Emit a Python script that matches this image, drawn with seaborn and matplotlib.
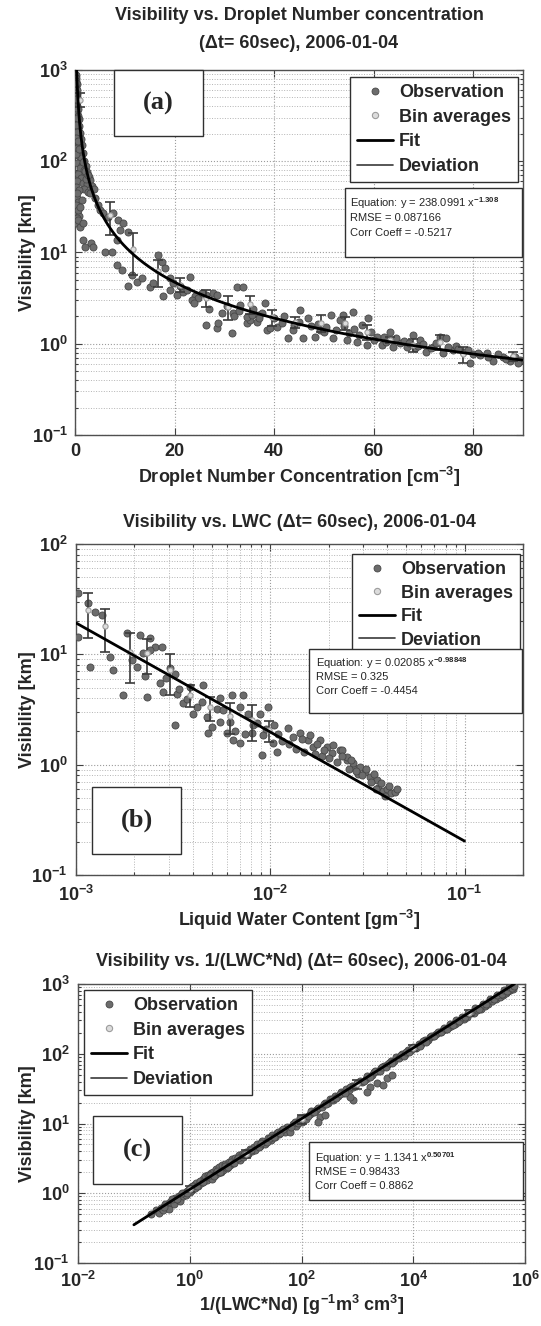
import numpy as np
import matplotlib
matplotlib.use("Agg")
import matplotlib.pyplot as plt
import seaborn as sns
from matplotlib.patches import Rectangle
from matplotlib.lines import Line2D
from matplotlib.ticker import FixedLocator, FuncFormatter, LogLocator, NullLocator, NullFormatter

# ---------------------------------------------------------------- data
# (a) visibility [km] vs droplet number concentration [cm^-3]
nd_obs = [
    0.2, 0.3, 0.25, 0.4, 0.3, 0.5, 0.35, 0.45, 0.6, 0.3,
    0.5, 0.7, 0.4, 0.6, 0.8, 0.5, 0.9, 0.7, 1.0, 0.6,
    1.2, 0.9, 1.4, 0.5, 1.1, 1.6, 0.8, 1.3, 1.9, 0.4,
    1.5, 2.2, 1.0, 1.8, 2.5, 0.7, 2.1, 2.8, 1.2, 3.1,
    0.5, 1.6, 2.4, 3.4, 0.3, 1.9, 0.9, 2.7, 3.8, 0.4,
    0.6, 0.3, 1.4, 0.5, 0.8, 0.3, 0.5, 1.0, 0.7,
    0.15, 0.2, 0.25, 0.15, 0.35, 0.2, 0.45, 0.3, 0.65, 0.25,
    0.75, 1.7, 2.0, 2.3, 2.6,
    0.34, 1.0, 0.67, 1.67, 3.0, 4.0, 4.7, 5.0, 5.7, 6.7,
    7.7, 8.7, 9.7, 9.0, 10.7, 8.4, 1.67, 2.0, 3.3, 3.7,
    6.0, 7.4, 8.4, 9.4, 10.7, 11.4, 12.4, 13.4, 15.1, 15.7,
    16.7, 17.4, 18.1, 17.7, 19.1, 19.7, 20.4, 21.7, 23.1, 24.1,
    24.8,
    26.4, 28.5, 31.5, 31.8, 32.5, 33.8, 34.5, 35.1, 36.8, 38.2,
    38.5, 39.2, 40.5, 42.8, 43.8, 45.2, 45.8, 46.8, 48.2, 49.2,
    50.5, 51.5, 51.9, 53.2, 53.9, 54.6, 55.9, 56.6, 57.6, 58.6,
    58.9, 60.6, 61.6, 63.3, 63.9, 65.3, 66.6, 67.9, 68.3, 69.3,
    70.6, 72.0, 73.3, 74.0, 74.6, 76.0, 78.0, 79.3, 81.3, 82.7,
    84.0, 86.0, 87.3, 88.4, 89.4,
    26.4, 27.8, 28.5, 28.8, 33.1, 34.5, 35.5, 36.5, 37.5,
    27, 29.5, 30.5, 32, 33, 35.8, 37, 40, 41.5, 42,
    44, 45, 47.5, 48.8, 50, 52.5, 54, 55, 56, 57,
    59.5, 60, 62, 62.5, 64.5, 66, 67, 69, 70, 71.5,
    72.5, 75, 76.5, 77, 79, 80, 81, 83, 85, 86.5,
    88, 89, 19, 21, 22.5, 23.5, 25.5, 24,
]
vis_nd_obs = [
    880, 820, 760, 700, 640, 600, 550, 500, 470, 430,
    400, 370, 340, 310, 290, 265, 245, 225, 205, 190,
    175, 160, 150, 140, 130, 122, 115, 108, 100, 95,
    92, 88, 84, 80, 76, 72, 70, 68, 65, 62,
    60, 58, 56, 54, 52, 50, 48, 46, 50, 40,
    36, 33, 38, 28, 25, 21, 24, 19, 29,
    720, 560, 480, 380, 300, 250, 210, 180, 165, 120,
    135, 98, 78, 64, 70,
    44.6, 31.8, 22.7, 20.9, 44.6, 39.3, 33.1, 29.2, 26.9, 24.7,
    26.9, 22.7, 20.9, 17.7, 16.9, 13.7, 13.7, 11.6, 12.6, 11.6,
    10.2, 10.2, 7.3, 6.4, 4.3, 5.7, 4.8, 5.2, 4.2, 4.6,
    9.4, 7.9, 6.7, 3.3, 5.2, 4.6, 3.4, 3.7, 5.4, 3.3,
    3.15,
    1.6, 1.48, 1.3, 2.16, 4.2, 4.15, 1.67, 1.82, 2.06, 2.77,
    1.42, 1.48, 1.54, 1.15, 1.42, 2.34, 1.15, 1.9, 1.19, 1.42,
    1.54, 2.06, 1.15, 1.82, 2.06, 1.1, 2.25, 1.05, 1.6, 0.97,
    1.9, 1.19, 0.97, 1.36, 0.93, 1.01, 0.93, 1.25, 0.89, 1.1,
    0.82, 0.93, 1.19, 0.79, 1.15, 0.855, 0.82, 0.61, 0.75, 0.79,
    0.64, 0.72, 0.64, 0.72, 0.66,
    3.4, 3.6, 3.4, 1.67, 2.66, 1.98, 2.06, 1.75, 2.16,
    2.4, 2.2, 2.6, 2.0, 2.3, 2.4, 1.9, 1.9, 1.7, 2.0,
    1.6, 1.75, 1.55, 1.65, 1.35, 1.4, 1.55, 1.3, 1.45, 1.25,
    1.35, 1.1, 1.2, 1.05, 1.15, 1.08, 1.02, 0.95, 1.0, 0.9,
    1.02, 0.92, 0.95, 0.88, 0.85, 0.78, 0.8, 0.72, 0.78, 0.68,
    0.7, 0.62, 3.9, 4.3, 3.9, 3.0, 3.6, 2.8,
]
nd_bin = [1.1, 7.0, 11.7, 16.7, 21.1, 26.4, 30.8, 35.1, 39.5,
          44.2, 49.5, 54.2, 58.6, 63.3, 67.9, 73.3, 78.0, 88.0]
vis_nd_bin = [475, 25.8, 11.0, 6.2, 4.45, 3.2, 2.55, 2.7, 1.95,
              1.73, 1.7, 1.7, 1.35, 1.1, 0.98, 1.05, 0.77, 0.73]
vis_nd_dev = [85, 10.2, 5.3, 2.0, 0.75, 0.68, 0.75, 0.6, 0.4,
              0.25, 0.35, 0.28, 0.25, 0.09, 0.16, 0.2, 0.16, 0.09]
fit_nd = {"coef": 238.0991, "expo": -1.308, "rmse": "0.087166", "corr": "-0.5217"}

# (b) visibility [km] vs liquid water content [g m^-3]
lwc_obs = [
    1.028e-3, 1.028e-3, 1.156e-3, 1.180e-3, 1.253e-3, 1.355e-3, 1.496e-3, 1.556e-3, 1.750e-3, 1.824e-3,
    2.133e-3, 2.404e-3, 2.553e-3, 2.761e-3, 1.936e-3, 2.051e-3, 2.218e-3, 2.265e-3, 2.312e-3, 2.404e-3,
    2.704e-3, 2.812e-3, 3.048e-3, 3.236e-3, 3.296e-3, 3.236e-3, 3.565e-3, 3.715e-3, 3.864e-3, 4.178e-3,
    4.436e-3, 4.519e-3, 4.710e-3, 4.797e-3, 5.297e-3, 5.508e-3, 5.970e-3, 5.728e-3, 6.324e-3, 6.209e-3,
    6.457e-3, 6.982e-3, 7.261e-3, 7.709e-3, 8.017e-3, 8.851e-3, 9.036e-3, 9.772e-3, 8.185e-3, 9.204e-3,
    1.035e-2, 1.239e-2, 1.312e-2, 1.422e-2, 1.570e-2, 1.663e-2, 1.803e-2, 1.950e-2, 2.070e-2, 2.286e-2,
    2.472e-2, 2.673e-2, 2.838e-2, 2.109e-2, 2.328e-2, 2.472e-2, 2.673e-2, 2.897e-2, 3.069e-2, 3.258e-2,
    3.524e-2,
    3.6e-2, 3.8e-2, 4.0e-2, 4.2e-2, 3.7e-2, 3.9e-2, 4.1e-2, 4.4e-2, 4.5e-2, 3.5e-2,
    1.1e-2, 1.15e-2, 1.25e-2, 1.35e-2, 1.45e-2, 1.5e-2, 1.6e-2, 1.7e-2, 1.75e-2, 1.85e-2,
    1.9e-2, 2.0e-2, 2.2e-2, 2.35e-2, 2.55e-2, 2.6e-2, 2.75e-2, 2.95e-2, 3.1e-2, 3.3e-2,
    3.4e-2, 1.05e-2, 9.5e-3, 8.5e-3, 1.08e-2, 5.0e-3, 5.5e-3, 6.6e-3, 7.0e-3, 7.4e-3,
    4.0e-3, 3.4e-3, 2.9e-3,
]
vis_lwc_obs = [
    35.7, 14.5, 29, 7.7, 24.3, 22.7, 9.5, 7.2, 4.3, 15.5,
    15, 14, 11.7, 11.7, 8.9, 7.7, 10.2, 6.3, 4.1, 10.9,
    5.5, 4.6, 7.5, 6.7, 4.4, 2.3, 3.6, 3.9, 5.1, 3.35,
    3.7, 5.3, 2.7, 1.92, 3.2, 2.45, 1.92, 3.1, 4.3, 2.45,
    1.67, 1.56, 4.3, 2.9, 1.92, 2.9, 1.22, 3.35, 2.3, 1.85,
    1.56, 2.13, 1.79, 1.92, 1.67, 1.45, 1.67, 1.45, 1.27, 1.36,
    1.1, 0.955, 0.83, 1.51, 1.36, 1.18, 1.03, 0.96, 0.86, 0.78,
    0.72,
    0.62, 0.58, 0.6, 0.55, 0.68, 0.52, 0.64, 0.57, 0.6, 0.6,
    1.9, 1.65, 1.55, 1.4, 1.7, 1.3, 1.85, 1.25, 1.55, 1.2,
    1.35, 1.15, 1.05, 1.2, 0.92, 1.1, 0.88, 0.8, 0.92, 0.7,
    0.82, 2.3, 2.1, 2.4, 1.3, 2.2, 4.0, 2.0, 3.3, 1.9,
    2.9, 4.9, 6.1,
]
lwc_bin = [1.156e-3, 1.41e-3, 1.90e-3, 2.31e-3, 3.05e-3,
           3.86e-3, 4.90e-3, 6.21e-3, 8.02e-3, 9.89e-3]
vis_lwc_bin = [25, 18, 10.5, 10.3, 7.2, 4.3, 3.3, 2.75, 2.55, 2.05]
vis_lwc_dev = [11, 7.5, 5, 3.6, 2.9, 1.0, 0.8, 0.85, 0.9, 0.45]
fit_lwc = {"coef": 0.02085, "expo": -0.98848, "rmse": "0.325", "corr": "-0.4454"}

# (c) visibility [km] vs 1/(LWC*Nd) [g^-1 m^3 cm^3]
inv_obs = [
    0.2, 0.25, 0.28, 0.3, 0.33, 0.36, 0.4, 0.42, 0.45, 0.5,
    0.52, 0.55, 0.6, 0.63, 0.66, 0.7, 0.75, 0.8, 0.85, 0.9,
    0.95, 1.0, 1.05, 1.1, 1.2, 1.25, 1.3, 1.4, 1.5, 1.6,
    1.7, 1.8, 1.9, 2.0, 2.1, 2.2, 2.4, 2.5, 2.6, 2.8,
    3.0, 3.2, 3.4, 3.6, 3.8, 4.0, 4.3, 4.6, 5.0, 5.3,
    5.7, 6.0, 6.5, 7.0, 7.5, 8.0, 8.5, 9.0, 10, 11,
    12, 13, 14, 15, 16, 18, 20, 22, 25, 28,
    30, 33, 36, 40, 45, 50, 55, 60, 70, 80,
    90, 100, 110, 120, 140, 160, 180, 200, 230, 260,
    300, 330, 370, 400, 450, 500, 560, 630, 700, 800,
    900, 1000, 1200, 1400, 1600, 1800, 2000, 2300, 2600, 3000,
    3400, 4000, 4500, 5000, 5600, 6300, 7000, 8000, 9000, 10000,
    11000, 12500, 14000, 16000, 18000, 20000, 23000, 26000, 30000, 34000,
    38000, 43000, 48000, 55000, 62000, 70000, 80000, 90000, 100000, 120000,
    140000, 160000, 190000, 220000, 260000, 300000, 350000, 400000, 450000, 500000,
    550000, 600000,
    62, 213, 262, 196, 841, 735, 1675, 1462, 2208, 3327, 4092, 2897,
    0.35, 0.48, 0.58, 0.72, 0.88, 1.15, 1.35, 1.55, 1.75, 2.3,
    2.7, 3.1, 3.5, 4.2, 4.8, 5.5, 6.2, 7.2, 8.8, 9.5,
    10.5, 12.5, 17, 19, 24, 27, 32, 38, 42, 47,
    65, 75, 85, 95, 130, 150, 170, 250, 280, 350,
    420, 480, 600, 750, 850, 1100, 1300, 1500, 1700, 2100,
    2500, 2800, 3200, 3700, 4200, 6000, 6800, 7500, 8500, 9500,
    13000, 15000, 17000, 21000, 24000, 28000, 32000, 36000, 40000, 46000,
    52000, 58000, 66000, 75000, 85000, 95000, 110000, 130000, 150000, 175000,
    200000, 240000, 280000, 320000, 380000, 420000, 480000, 520000, 580000, 640000,
]
vis_inv_obs = [
    0.50, 0.58, 0.52, 0.62, 0.58, 0.70, 0.66, 0.60, 0.74, 0.78,
    0.70, 0.85, 0.82, 0.92, 0.78, 0.95, 0.90, 1.02, 0.95, 1.08,
    1.15, 1.05, 1.22, 1.12, 1.30, 1.18, 1.40, 1.28, 1.45, 1.38,
    1.62, 1.50, 1.75, 1.55, 1.85, 1.70, 1.95, 1.62, 2.05, 1.80,
    2.20, 1.95, 2.35, 2.05, 2.50, 2.15, 2.60, 2.30, 2.85, 2.50,
    3.05, 2.70, 3.20, 3.10, 3.50, 3.00, 3.60, 3.40, 3.90, 3.60,
    4.30, 4.00, 4.60, 4.20, 5.00, 4.70, 5.60, 5.10, 6.20, 5.80,
    6.80, 6.30, 7.40, 7.00, 8.20, 7.60, 8.90, 8.30, 9.80, 9.20,
    11.0, 10.5, 12.5, 11.5, 13.8, 14.5, 15.5, 16.8, 17.5, 19.5,
    20.0, 22.5, 22.0, 24.5, 25.0, 28.0, 27.5, 31.0, 30.0, 34.5,
    34.0, 38.5, 40.0, 44.0, 47.0, 50.0, 55.0, 57.0, 62.0, 66.0,
    70.0, 78.0, 80.0, 90.0, 88.0, 98.0, 100, 112, 115, 125,
    122, 138, 140, 155, 160, 172, 180, 195, 205, 220,
    225, 245, 250, 270, 285, 300, 320, 340, 380, 385,
    420, 440, 480, 520, 570, 610, 660, 700, 750, 800,
    830, 860,
    7.6, 12.5, 13.2, 10.6, 21.7, 24.2, 33.7, 28.6, 37.7, 44.5, 49.5, 35.6,
    0.64, 0.82, 0.83, 1.0, 1.02, 1.27, 1.25, 1.48, 1.44, 1.80,
    1.79, 2.1, 2.05, 2.45, 2.40, 2.80, 2.75, 3.2, 3.28, 3.7,
    3.6, 4.2, 4.55, 5.25, 5.45, 6.25, 6.3, 7.45, 7.2, 8.3,
    9.0, 10.5, 10.3, 11.8, 12.8, 14.9, 14.6, 19.3, 18.8, 22.8,
    23.1, 26.8, 27.6, 33.4, 32.9, 40.5, 40.7, 47.4, 46.6, 56.2,
    56.6, 65.0, 64.1, 74.7, 73.5, 95.6, 94.0, 107, 105, 121,
    130, 152, 149, 180, 178, 208, 205, 236, 230, 267,
    262, 300, 295, 341, 335, 384, 381, 449, 445, 521,
    515, 612, 610, 705, 712, 810, 800, 900, 880, 940,
]
inv_bin = [1.0, 10, 100, 1000, 1e4, 1e5]
vis_inv_bin = [1.15, 3.7, 11.5, 37, 122, 385]
vis_inv_dev = [0.12, 0.45, 1.6, 5.5, 12, 35]
fit_inv = {"coef": 1.1341, "expo": 0.50701, "rmse": "0.98433", "corr": "0.8862"}

legend_labels = ["Observation", "Bin averages", "Fit", "Deviation"]
date_str = "2006-01-04"

# ---------------------------------------------------------------- style
sns.set_style("ticks")
plt.rcParams["font.family"] = ["Liberation Sans", "DejaVu Sans"]
plt.rcParams["font.weight"] = "bold"
plt.rcParams["mathtext.fontset"] = "custom"
plt.rcParams["mathtext.rm"] = "Liberation Sans"
plt.rcParams["mathtext.it"] = "Liberation Sans:italic"
plt.rcParams["mathtext.bf"] = "Liberation Sans:bold"

W, H = 541, 1326
fig = plt.figure(figsize=(W / 100, H / 100), dpi=100)
fig.patch.set_facecolor("white")


def fx(px):
    return px / W


def fy(py):
    return 1 - py / H


OBS_FACE, OBS_EDGE = "#6c6c6c", "#474747"
BIN_FACE, BIN_EDGE = "#dcdcdc", "#9c9c9c"
DEV_COLOR = "#3a3a3a"
FS = 13


def log_fmt(v, pos):
    e = int(round(np.log10(v)))
    return r"$\mathbf{10^{%d}}$" % e


def style_axes(ax):
    for sp in ax.spines.values():
        sp.set_color("#505050")
        sp.set_linewidth(1.0)
    ax.tick_params(which="both", direction="in", top=True, right=True,
                   color="#404040", width=0.8, labelsize=FS)
    ax.tick_params(which="major", length=5)
    ax.tick_params(which="minor", length=2.5)
    ax.set_axisbelow(True)
    ax.grid(which="major", ls=":", color="#9c9c9c", lw=0.8)
    ax.grid(which="minor", ls=":", color="#b4b4b4", lw=0.7)


def draw_panel(ax, x_obs, y_obs, x_bin, y_bin, y_dev, fit, x_fit):
    sns.scatterplot(x=x_obs, y=y_obs, ax=ax, s=26, color=OBS_FACE,
                    edgecolor=OBS_EDGE, linewidth=0.6, zorder=3, legend=False)
    ax.errorbar(x_bin, y_bin, yerr=y_dev, fmt="none", ecolor=DEV_COLOR,
                elinewidth=1.2, capsize=3.5, capthick=1.2, zorder=4)
    sns.scatterplot(x=x_bin, y=y_bin, ax=ax, s=14, color=BIN_FACE,
                    edgecolor=BIN_EDGE, linewidth=0.8, zorder=5, legend=False)
    y_fit = fit["coef"] * np.asarray(x_fit) ** fit["expo"]
    sns.lineplot(x=x_fit, y=y_fit, ax=ax, color="black", lw=2.0,
                 sort=False, estimator=None, zorder=6)


def add_legend(ax, anchor, loc, spacing):
    handles = [
        Line2D([], [], ls="none", marker="o", ms=5, mfc=OBS_FACE, mec=OBS_EDGE, mew=0.6),
        Line2D([], [], ls="none", marker="o", ms=4.5, mfc=BIN_FACE, mec=BIN_EDGE, mew=0.8),
        Line2D([], [], color="black", lw=2.0),
        Line2D([], [], color=DEV_COLOR, lw=1.2),
    ]
    leg = ax.legend(handles, legend_labels, loc=loc, bbox_to_anchor=anchor,
                    bbox_transform=fig.transFigure, frameon=True, fancybox=False,
                    framealpha=1, edgecolor="#303030",
                    prop={"weight": "bold", "size": FS}, handlelength=2.0,
                    handletextpad=0.3, labelspacing=spacing, borderpad=0.4,
                    borderaxespad=0)
    leg.get_frame().set_linewidth(1.0)
    leg.set_zorder(10)


def add_box(x0, y0, x1, y1):
    fig.add_artist(Rectangle((fx(x0), fy(y1)), fx(x1) - fx(x0), fy(y0) - fy(y1),
                             transform=fig.transFigure, facecolor="white",
                             edgecolor="#303030", lw=1.0, zorder=5))


def add_eq_box(fit, box, text_x, text_ys, size=8):
    add_box(*box)
    lines = [r"Equation: y = %s x$^{\mathrm{%s}}$" % (fit["coef"], fit["expo"]),
             f"RMSE = {fit['rmse']}",
             f"Corr Coeff = {fit['corr']}"]
    for s, ty in zip(lines, text_ys):
        fig.text(fx(text_x), fy(ty), s, fontsize=size, fontweight="normal",
                 family=["Liberation Sans"], ha="left", va="center", zorder=6)


def add_tag(tag, box):
    add_box(*box)
    fig.text(fx((box[0] + box[2]) / 2), fy((box[1] + box[3]) / 2), tag,
             family=["Liberation Serif"], fontweight="bold", fontsize=19,
             ha="center", va="center", zorder=6)


# ---------------------------------------------------------------- panel (a)
ax_a = fig.add_axes([fx(75), fy(435), (523 - 75) / W, (435 - 70) / H])
ax_a.set_yscale("log")
draw_panel(ax_a, nd_obs, vis_nd_obs, nd_bin, vis_nd_bin, vis_nd_dev,
           fit_nd, np.geomspace(0.3, 90, 400))
ax_a.set_xlim(0, 90)
ax_a.set_ylim(1e-1, 1e3)
ax_a.xaxis.set_major_locator(FixedLocator([0, 20, 40, 60, 80]))
ax_a.xaxis.set_minor_locator(NullLocator())
ax_a.yaxis.set_major_locator(FixedLocator([1e-1, 1e0, 1e1, 1e2, 1e3]))
ax_a.yaxis.set_minor_locator(LogLocator(base=10, subs=np.arange(2, 10)))
ax_a.yaxis.set_major_formatter(FuncFormatter(log_fmt))
ax_a.yaxis.set_minor_formatter(NullFormatter())
style_axes(ax_a)
ax_a.tick_params(axis="x", pad=6)
ax_a.tick_params(axis="y", pad=5)
ax_a.set_xlabel("")
ax_a.set_ylabel("")

# ---------------------------------------------------------------- panel (b)
ax_b = fig.add_axes([fx(76), fy(875), (523 - 76) / W, (875 - 544) / H])
ax_b.set_xscale("log")
ax_b.set_yscale("log")
draw_panel(ax_b, lwc_obs, vis_lwc_obs, lwc_bin, vis_lwc_bin, vis_lwc_dev,
           fit_lwc, np.geomspace(1e-3, 0.1, 200))
ax_b.set_xlim(1e-3, 0.2)
ax_b.set_ylim(1e-1, 1e2)
ax_b.xaxis.set_major_locator(FixedLocator([1e-3, 1e-2, 1e-1]))
ax_b.xaxis.set_minor_locator(LogLocator(base=10, subs=np.arange(2, 10)))
ax_b.yaxis.set_major_locator(FixedLocator([1e-1, 1e0, 1e1, 1e2]))
ax_b.yaxis.set_minor_locator(LogLocator(base=10, subs=np.arange(2, 10)))
for axis in (ax_b.xaxis, ax_b.yaxis):
    axis.set_major_formatter(FuncFormatter(log_fmt))
    axis.set_minor_formatter(NullFormatter())
style_axes(ax_b)
ax_b.tick_params(axis="x", pad=7)
ax_b.tick_params(axis="y", pad=6)
ax_b.set_xlabel("")
ax_b.set_ylabel("")

# ---------------------------------------------------------------- panel (c)
ax_c = fig.add_axes([fx(78), fy(1263), (525 - 78) / W, (1263 - 984) / H])
ax_c.set_xscale("log")
ax_c.set_yscale("log")
draw_panel(ax_c, inv_obs, vis_inv_obs, inv_bin, vis_inv_bin, vis_inv_dev,
           fit_inv, np.geomspace(0.1, 6.5e5, 200))
ax_c.set_xlim(1e-2, 1e6)
ax_c.set_ylim(1e-1, 1e3)
ax_c.xaxis.set_major_locator(FixedLocator([1e-2, 1e0, 1e2, 1e4, 1e6]))
ax_c.xaxis.set_minor_locator(NullLocator())
ax_c.yaxis.set_major_locator(FixedLocator([1e-1, 1e0, 1e1, 1e2, 1e3]))
ax_c.yaxis.set_minor_locator(LogLocator(base=10, subs=np.arange(2, 10)))
for axis in (ax_c.xaxis, ax_c.yaxis):
    axis.set_major_formatter(FuncFormatter(log_fmt))
    axis.set_minor_formatter(NullFormatter())
style_axes(ax_c)
ax_c.tick_params(axis="x", pad=6)
ax_c.tick_params(axis="y", pad=6)
ax_c.set_xlabel("")
ax_c.set_ylabel("")

# ---------------------------------------------------------------- text
fig.text(fx(299), fy(15), "Visibility vs. Droplet Number concentration",
         fontsize=FS, ha="center", va="center")
fig.text(fx(299), fy(44), f"(\u0394t= 60sec), {date_str}",
         fontsize=FS, ha="center", va="center")
fig.text(fx(299.5), fy(523), f"Visibility vs. LWC (\u0394t= 60sec), {date_str}",
         fontsize=FS, ha="center", va="center")
fig.text(fx(301.5), fy(962), f"Visibility vs. 1/(LWC*Nd) (\u0394t= 60sec), {date_str}",
         fontsize=FS, ha="center", va="center")

fig.text(fx(299), fy(477), r"Droplet Number Concentration [cm$^{\mathbf{-3}}$]",
         fontsize=FS, ha="center", va="center")
fig.text(fx(299.5), fy(920), r"Liquid Water Content [gm$^{\mathbf{-3}}$]",
         fontsize=FS, ha="center", va="center")
fig.text(fx(301.5), fy(1305),
         r"1/(LWC*Nd) [g$^{\mathbf{-1}}$m$^{\mathbf{3}}$ cm$^{\mathbf{3}}$]",
         fontsize=FS, ha="center", va="center")

for yc in (252.5, 709.5, 1123.5):
    fig.text(fx(27), fy(yc), "Visibility [km]", fontsize=FS, rotation=90,
             ha="center", va="center")

add_legend(ax_a, (fx(518), fy(77)), "upper right", 0.42)
add_legend(ax_b, (fx(520), fy(554)), "upper right", 0.36)
add_legend(ax_c, (fx(84), fy(990)), "upper left", 0.42)

add_eq_box(fit_nd, (345, 188, 522, 257), 350, (203, 218, 233))
add_eq_box(fit_lwc, (309, 649, 522, 713), 316, (663, 677, 691))
add_eq_box(fit_inv, (309, 1142, 523, 1200), 315, (1158, 1172, 1186))

add_tag("(a)", (114, 70, 203, 136))
add_tag("(b)", (92, 787, 181, 854))
add_tag("(c)", (93, 1116, 182, 1184))

fig.savefig("out.png", dpi=100, facecolor="white")
